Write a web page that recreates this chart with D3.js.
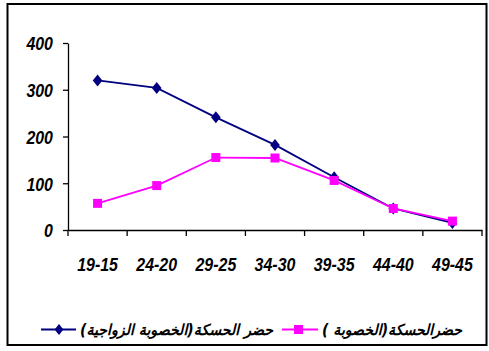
<!DOCTYPE html>
<html><head><meta charset="utf-8">
<script src="https://cdn.jsdelivr.net/npm/d3@7"></script>
<style>html,body{margin:0;padding:0;background:#fff;}svg{display:block;}</style>
</head><body>
<svg id="chart" width="489" height="351"></svg>
<script>
const categories = ["19-15","24-20","29-25","34-30","39-35","44-40","49-45"];
const maritalValues = [320, 304, 241, 182, 113, 46, 15];   // navy diamonds
const fertilityValues = [57, 95, 155, 154, 106, 46, 19];  // magenta squares
const yTicks = [0, 100, 200, 300, 400];
const seriesNames = ["حضر الحسكة(الخصوبة الزواجية)", "حضرالحسكة(الخصوبة )"];

const svg = d3.select("#chart");
const numFont = "'Liberation Sans',Arial,sans-serif";
const sx = 0.84;

// frame
svg.append("rect").attr("x",7.5).attr("y",4).attr("width",479).attr("height",341)
  .attr("fill","none").attr("stroke","#000").attr("stroke-width",2);

const x = d3.scaleBand().domain(categories).range([68, 482]);
const y = d3.scaleLinear().domain([0, 400]).range([230, 43]);

// y axis
const yAxis = svg.append("g").attr("transform","translate(68,0)")
  .call(d3.axisLeft(y).tickValues(yTicks).tickSize(5).tickSizeOuter(0));
yAxis.select(".domain").attr("stroke","#000").attr("stroke-width",1.3);
yAxis.selectAll(".tick line").attr("stroke","#000").attr("stroke-width",1.3);
yAxis.selectAll(".tick text").attr("x",-15/sx).attr("dy","0.36em")
  .attr("transform",`scale(${sx},1)`)
  .attr("font-family",numFont).attr("font-size",19).attr("font-weight","bold")
  .attr("font-style","italic").attr("fill","#000");

// x axis
const xAxis = svg.append("g").attr("transform","translate(0,230)")
  .call(d3.axisBottom(x).tickSize(0).tickSizeOuter(0));
xAxis.select(".domain").attr("stroke","#000").attr("stroke-width",1.3);
xAxis.selectAll(".tick text").attr("y",41).attr("dy",0)
  .attr("transform",`scale(${sx},1)`)
  .attr("font-family",numFont).attr("font-size",19).attr("font-weight","bold")
  .attr("font-style","italic").attr("fill","#000");
// category boundary ticks
const bounds = categories.map(c => x(c)).concat([x.range()[1]]);
svg.append("g").selectAll("line").data(bounds).join("line")
  .attr("x1",d=>d).attr("x2",d=>d).attr("y1",230).attr("y2",236)
  .attr("stroke","#000").attr("stroke-width",1.3);

const cx = c => x(c) + x.bandwidth()/2;
const line = vals => d3.line().x((d,i)=>cx(categories[i])).y(d=>y(d))(vals);

const navy = "#000080", magenta = "#FF00FF";
const diamond = (px,py,s) => `M${px},${py-s}L${px+s*0.8},${py}L${px},${py+s}L${px-s*0.8},${py}Z`;

// navy series
svg.append("path").attr("d", line(maritalValues)).attr("fill","none")
  .attr("stroke",navy).attr("stroke-width",1.8);
svg.append("g").selectAll("path").data(maritalValues).join("path")
  .attr("d",(d,i)=>diamond(cx(categories[i]), y(d), 6)).attr("fill",navy);

// magenta series
svg.append("path").attr("d", line(fertilityValues)).attr("fill","none")
  .attr("stroke",magenta).attr("stroke-width",1.8);
svg.append("g").selectAll("rect").data(fertilityValues).join("rect")
  .attr("x",(d,i)=>cx(categories[i])-4.5).attr("y",d=>y(d)-4.5)
  .attr("width",9).attr("height",9).attr("fill",magenta);

// legend
const ly = 329.5;
const lg = svg.append("g");
lg.append("line").attr("x1",41).attr("x2",76).attr("y1",ly).attr("y2",ly)
  .attr("stroke",navy).attr("stroke-width",1.8);
lg.append("path").attr("d",diamond(59,ly,5.5)).attr("fill",navy);
lg.append("line").attr("x1",282).attr("x2",318).attr("y1",ly).attr("y2",ly)
  .attr("stroke",magenta).attr("stroke-width",1.8);
lg.append("rect").attr("x",294).attr("y",ly-4.5).attr("width",9).attr("height",9).attr("fill",magenta);

const legendText = [
  {t: seriesNames[0], x0: 80, x1: 273},
  {t: seriesNames[1], x0: 322, x1: 462}
];
lg.selectAll("text").data(legendText).join("text")
  .attr("x",d=>(d.x0+d.x1)/2).attr("y",ly+5)
  .attr("text-anchor","middle")
  .attr("direction","rtl")
  .attr("font-family","'DejaVu Sans',Arial,sans-serif")
  .attr("font-size",15).attr("font-weight","bold").attr("font-style","italic")
  .attr("textLength",d=>d.x1-d.x0).attr("lengthAdjust","spacingAndGlyphs")
  .attr("fill","#000")
  .text(d=>d.t);
</script>
</body></html>
